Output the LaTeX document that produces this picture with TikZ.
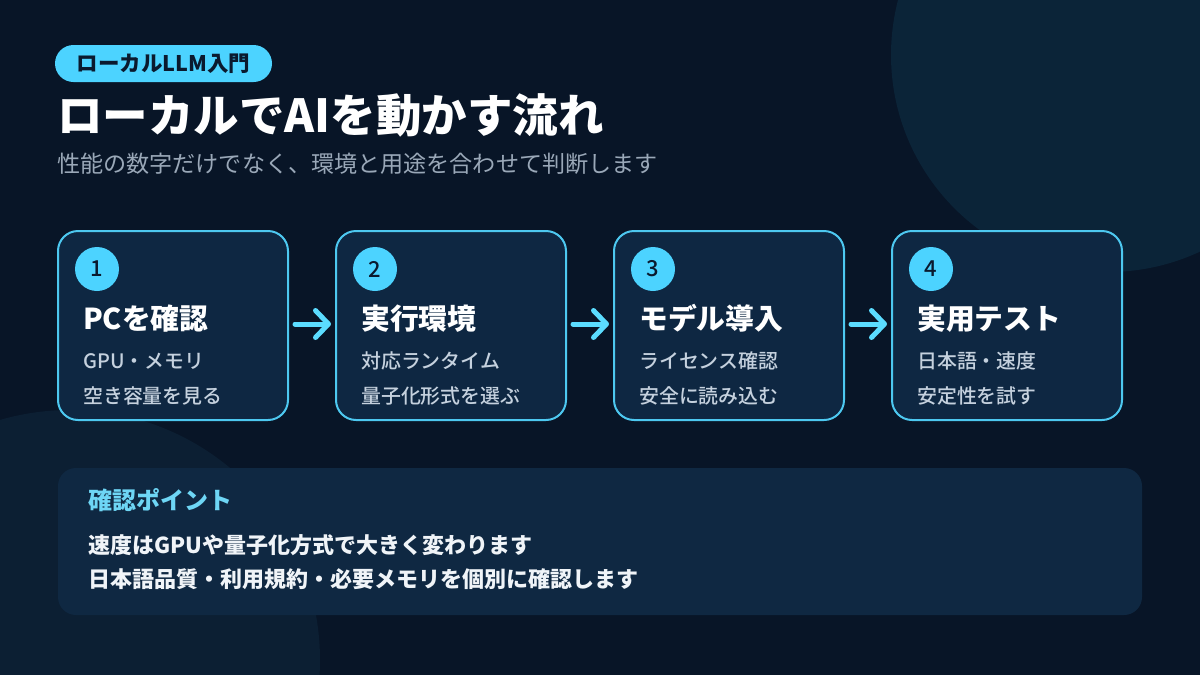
\documentclass[tikz,border=0pt]{standalone}
\usepackage{fontspec}
\setmainfont{Noto Sans CJK JP}
\newfontfamily\jpmed{Noto Sans CJK JP Medium}
\usetikzlibrary{arrows.meta,positioning,calc}
\definecolor{bg}{HTML}{081527}
\definecolor{blobA}{HTML}{0B2438}
\definecolor{blobB}{HTML}{0C1F33}
\definecolor{cyanfill}{HTML}{4CD3FF}
\definecolor{boxfill}{HTML}{0E2742}
\definecolor{boxline}{HTML}{4DC8F0}
\definecolor{darktext}{HTML}{0A1A2E}
\definecolor{subgray}{HTML}{C5D1DE}
\definecolor{subtitlegray}{HTML}{9AA8B8}
\definecolor{panelfill}{HTML}{0F2842}
\definecolor{panelhead}{HTML}{6ED6F5}
\definecolor{paneltext}{HTML}{F0F4F8}
\definecolor{arrowcol}{HTML}{5BDCFF}
\tikzset{
  stepbox/.style={draw=boxline, line width=2pt, fill=boxfill, rounded corners=20pt,
    minimum width=230pt, minimum height=189pt, inner sep=0pt},
  numcirc/.style={circle, fill=cyanfill, minimum size=44pt, inner sep=0pt,
    text=darktext, font=\fontsize{22}{22}\selectfont\jpmed},
  stephead/.style={anchor=base west, text=white, inner sep=0pt, font=\fontsize{28.8}{29}\selectfont\bfseries},
  stepsub/.style={anchor=base west, text=subgray, inner sep=0pt, font=\fontsize{19.9}{20}\selectfont\jpmed},
  paneltxt/.style={anchor=base west, inner sep=0pt, text=paneltext, font=\fontsize{22}{22}\selectfont\bfseries},
  flowarrow/.style={draw=arrowcol, line width=5pt, line cap=round,
    -{Straight Barb[length=13pt, width=27pt, line cap=round, line join=round]}},
}
\begin{document}
\begin{tikzpicture}[x=1pt,y=-1pt]
\useasboundingbox (0,0) rectangle (1200,675);
\fill[bg] (0,0) rectangle (1200,675);
\begin{scope}
\clip (0,0) rectangle (1200,675);
\fill[blobA] (1108,55) circle (217);
\fill[blobB] (70,660) circle (250);
\end{scope}

% pill and titles
\node[fill=cyanfill, rounded corners=18.5pt, minimum width=217pt, minimum height=37pt, inner sep=0pt,
  text=darktext, font=\fontsize{21.5}{22}\selectfont\bfseries] (pill) at (163.5,63.5) {ローカルLLM入門};
\node[anchor=base west, inner sep=0pt, text=white, font=\fontsize{45.5}{46}\selectfont\bfseries] (title) at (57,132) {ローカルでAIを動かす流れ};
\node[anchor=base west, inner sep=0pt, text=subtitlegray, font=\fontsize{23.1}{24}\selectfont] (subtitle) at (57,172) {性能の数字だけでなく、環境と用途を合わせて判断します};

% step boxes
\foreach \i/\cx/\head/\la/\lb in {1/173/PCを確認/GPU・メモリ/空き容量を見る,
                                  2/451/実行環境/対応ランタイム/量子化形式を選ぶ,
                                  3/729/モデル導入/ライセンス確認/安全に読み込む,
                                  4/1007/実用テスト/日本語・速度/安定性を試す}{
  \node[stepbox] (box\i) at (\cx,325.5) {};
  \node[numcirc] (num\i) at ($(box\i.north west)+(40,39)$) {\i};
  \node[stephead] (head\i) at ($(box\i.north west)+(26,99)$) {\head};
  \node[stepsub] (suba\i) at ($(box\i.north west)+(26,138)$) {\la};
  \node[stepsub] (subb\i) at ($(box\i.north west)+(26,173)$) {\lb};
}
\foreach \a/\b in {1/2,2/3,3/4}{
  \draw[flowarrow, shorten <=6pt, shorten >=4pt] ($(box\a.east)+(0,-1.5)$) -- ($(box\b.west)+(0,-1.5)$);
}

% bottom panel
\node[fill=panelfill, rounded corners=18pt, minimum width=1084pt, minimum height=147pt, inner sep=0pt] (panel) at (600,541.5) {};
\node[anchor=base west, inner sep=0pt, text=panelhead, font=\fontsize{24}{24}\selectfont\bfseries] (phead) at (88,509) {確認ポイント};
\node[paneltxt] (pline1) at (88,553) {速度はGPUや量子化方式で大きく変わります};
\node[paneltxt] (pline2) at (88,587) {日本語品質・利用規約・必要メモリを個別に確認します};
\end{tikzpicture}
\end{document}
